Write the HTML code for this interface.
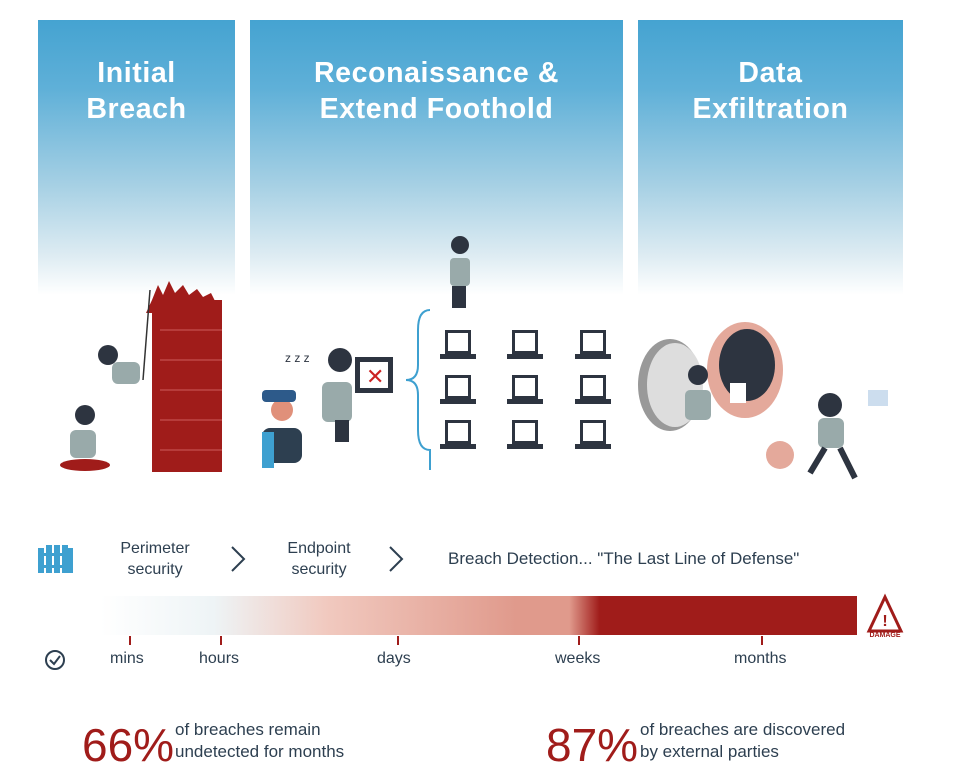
<!DOCTYPE html>
<html><head><meta charset="utf-8"><style>
body{margin:0;width:975px;height:779px;background:#fff;position:relative;overflow:hidden;font-family:"Liberation Sans",sans-serif}
.p{position:absolute;top:20px;height:275px;background:linear-gradient(#45a3d1 0%,#5fb0d8 25%,#a6d0e4 60%,#dcebf2 85%,#fff 100%)}
.h{position:absolute;color:#fff;font-weight:bold;font-size:28.5px;line-height:36px;text-align:center;width:100%;top:35px;letter-spacing:0.6px}
.t{position:absolute;color:#2d3f50;font-size:16px;text-align:center;line-height:21px}
.l{position:absolute;color:#2d3f50;font-size:16px;top:650px}
.tk{position:absolute;top:636px;width:2px;height:9px;background:#a01c1a}
.big{position:absolute;color:#a01c1a;font-size:46px;top:718px}
.s{position:absolute;color:#2d3f50;font-size:17px;line-height:22px;top:719px}
</style></head><body>
<div class="p" style="left:38px;width:197px"><div class="h">Initial<br>Breach</div></div>
<div class="p" style="left:250px;width:373px"><div class="h">Reconaissance &amp;<br>Extend Foothold</div></div>
<div class="p" style="left:638px;width:265px"><div class="h">Data<br>Exfiltration</div></div>

<svg width="975" height="779" style="position:absolute;left:0;top:0">
<rect x="152" y="300" width="70" height="172" fill="#a01c1a"/>
<path d="M152 300 l6 -15 l5 10 l6 -14 l6 12 l8 -8 l6 10 l8 -6 l6 8 l8 -4 l5 10 v10 h-70z" fill="#a01c1a"/>
<g stroke="#e88" stroke-width="1" opacity=".6"><line x1="160" y1="330" x2="222" y2="330"/><line x1="160" y1="360" x2="222" y2="360"/><line x1="160" y1="390" x2="222" y2="390"/><line x1="160" y1="420" x2="222" y2="420"/><line x1="160" y1="450" x2="222" y2="450"/></g>
<line x1="150" y1="290" x2="143" y2="380" stroke="#333" stroke-width="1.5"/>
<circle cx="108" cy="355" r="10" fill="#2d3440"/><rect x="112" y="362" width="28" height="22" rx="6" fill="#9aa"/>
<ellipse cx="85" cy="465" rx="25" ry="6" fill="#a01c1a"/><circle cx="85" cy="415" r="10" fill="#2d3440"/><rect x="70" y="430" width="26" height="28" rx="6" fill="#9aa"/>
<circle cx="282" cy="410" r="11" fill="#e0907a"/><rect x="262" y="390" width="34" height="12" rx="4" fill="#2d5a8a"/><rect x="262" y="428" width="40" height="35" rx="8" fill="#2d3f50"/><rect x="262" y="432" width="12" height="36" fill="#3ea0d0"/>
<text x="285" y="362" font-size="12" fill="#2d3440" font-family="Liberation Sans">z z z</text>
<circle cx="340" cy="360" r="12" fill="#2d3440"/><rect x="322" y="382" width="30" height="40" rx="6" fill="#9aa"/><rect x="335" y="420" width="14" height="22" fill="#2d3440"/>
<rect x="355" y="357" width="38" height="36" fill="#2d3440"/><rect x="360" y="362" width="28" height="26" fill="#fff"/><text x="366" y="384" fill="#c22" font-size="22">✕</text>
<path d="M430 310 q-12 0 -12 20 v35 q0 15 -12 15 q12 0 12 15 v35 q0 20 12 20 v20" fill="none" stroke="#3ea0d0" stroke-width="2"/>
<circle cx="460" cy="245" r="9" fill="#2d3440"/><rect x="450" y="258" width="20" height="28" rx="4" fill="#9aa"/><rect x="452" y="286" width="14" height="22" fill="#2d3440"/>
<g fill="#2d3440">
<rect x="445" y="330" width="26" height="24"/><rect x="440" y="354" width="36" height="5"/>
<rect x="512" y="330" width="26" height="24"/><rect x="507" y="354" width="36" height="5"/>
<rect x="580" y="330" width="26" height="24"/><rect x="575" y="354" width="36" height="5"/>
<rect x="445" y="375" width="26" height="24"/><rect x="440" y="399" width="36" height="5"/>
<rect x="512" y="375" width="26" height="24"/><rect x="507" y="399" width="36" height="5"/>
<rect x="580" y="375" width="26" height="24"/><rect x="575" y="399" width="36" height="5"/>
<rect x="445" y="420" width="26" height="24"/><rect x="440" y="444" width="36" height="5"/>
<rect x="512" y="420" width="26" height="24"/><rect x="507" y="444" width="36" height="5"/>
<rect x="580" y="420" width="26" height="24"/><rect x="575" y="444" width="36" height="5"/>
</g>
<g fill="#fff"><rect x="448" y="333" width="20" height="18"/><rect x="515" y="333" width="20" height="18"/><rect x="583" y="333" width="20" height="18"/><rect x="448" y="378" width="20" height="18"/><rect x="515" y="378" width="20" height="18"/><rect x="583" y="378" width="20" height="18"/><rect x="448" y="423" width="20" height="18"/><rect x="515" y="423" width="20" height="18"/><rect x="583" y="423" width="20" height="18"/></g>
<ellipse cx="670" cy="385" rx="32" ry="46" fill="#999"/><ellipse cx="675" cy="385" rx="28" ry="42" fill="#ddd"/>
<ellipse cx="745" cy="370" rx="38" ry="48" fill="#e4a99b"/><ellipse cx="747" cy="365" rx="28" ry="36" fill="#2d3440"/>
<circle cx="698" cy="375" r="10" fill="#2d3440"/><rect x="685" y="390" width="26" height="30" rx="5" fill="#9aa"/><rect x="730" y="383" width="16" height="20" fill="#fff"/>
<circle cx="830" cy="405" r="12" fill="#2d3440"/><rect x="818" y="418" width="26" height="30" rx="6" fill="#9aa"/><path d="M825 448 l-15 25 M840 448 l15 30" stroke="#2d3440" stroke-width="6"/><circle cx="780" cy="455" r="14" fill="#e4a99b"/><rect x="868" y="390" width="20" height="16" fill="#cde" />
<g fill="#3ea0d0"><rect x="38" y="548" width="6" height="25"/><rect x="46" y="545" width="6" height="28"/><rect x="54" y="545" width="6" height="28"/><rect x="62" y="545" width="6" height="28"/><rect x="68" y="548" width="5" height="25"/><rect x="38" y="553" width="35" height="3"/><rect x="38" y="565" width="35" height="3"/></g>
<path d="M232 547 l12 12 l-12 12" fill="none" stroke="#2d3f50" stroke-width="2"/>
<path d="M390 547 l12 12 l-12 12" fill="none" stroke="#2d3f50" stroke-width="2"/>
<defs><linearGradient id="g" x1="0" x2="1"><stop offset="0" stop-color="#fff"/><stop offset=".15" stop-color="#eef4f6"/><stop offset=".3" stop-color="#f1c9bf"/><stop offset=".55" stop-color="#e09a8c"/><stop offset=".62" stop-color="#e09a8c"/><stop offset=".66" stop-color="#a01c1a"/><stop offset="1" stop-color="#a01c1a"/></linearGradient></defs>
<rect x="100" y="596" width="757" height="39" fill="url(#g)"/>
<path d="M885 597 l-16 34 h32z" fill="none" stroke="#a01c1a" stroke-width="3"/><text x="885" y="626" text-anchor="middle" fill="#a01c1a" font-size="16" font-weight="bold">!</text>
<text x="885" y="637" text-anchor="middle" fill="#a01c1a" font-size="7" font-weight="bold">DAMAGE</text>
<circle cx="55" cy="660" r="9" fill="none" stroke="#2d3f50" stroke-width="2"/><path d="M50 660 l4 4 l6 -8" fill="none" stroke="#2d3f50" stroke-width="2"/>
</svg>
<div class="t" style="left:100px;width:110px;top:538px">Perimeter<br>security</div>
<div class="t" style="left:264px;width:110px;top:538px">Endpoint<br>security</div>
<div class="t" style="left:448px;top:548px;font-size:17px;text-align:left">Breach Detection... "The Last Line of Defense"</div>
<div class="tk" style="left:129px"></div><div class="tk" style="left:220px"></div><div class="tk" style="left:397px"></div><div class="tk" style="left:578px"></div><div class="tk" style="left:761px"></div>
<div class="l" style="left:110px">mins</div><div class="l" style="left:199px">hours</div><div class="l" style="left:377px">days</div><div class="l" style="left:555px">weeks</div><div class="l" style="left:734px">months</div>
<div class="big" style="left:82px">66%</div><div class="s" style="left:175px">of breaches remain<br>undetected for months</div>
<div class="big" style="left:546px">87%</div><div class="s" style="left:640px">of breaches are discovered<br>by external parties</div>
</body></html>
